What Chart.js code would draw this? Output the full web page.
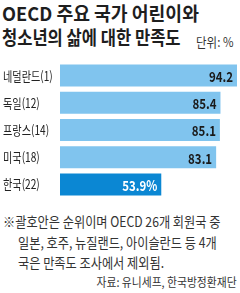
<!DOCTYPE html>
<html>
<head>
<meta charset="utf-8">
<script src="https://cdn.jsdelivr.net/npm/chart.js@4"></script>
<style>
  html, body { margin: 0; padding: 0; background: #fff; }
  body { width: 240px; height: 293px; position: relative; overflow: hidden;
         font-family: "Noto Sans CJK KR", "Noto Sans", sans-serif; color: #1e1e1e; }
  .t { position: absolute; white-space: nowrap; transform-origin: left top; }
  .title { font-size: 19px; font-weight: 700; line-height: 19px; left: 2px; }
  .unit { font-size: 13px; right: 7px; top: 32px; transform-origin: right top; transform: scaleX(.88); color: #333; }
  .note { font-size: 14px; line-height: 14px; transform: scaleX(.87); color: #333; }
  .src { font-size: 12px; right: 3px; top: 273px; transform-origin: right top; transform: scaleX(.9); color: #333; }
  #wrap { position: absolute; left: 0; top: 62px; width: 240px; height: 136px; }
</style>
</head>
<body>
<div class="t title" style="top:3px;transform:scaleX(.96)">OECD 주요 국가 어린이와</div>
<div class="t title" style="top:27px;transform:scaleX(.87)">청소년의 삶에 대한 만족도</div>
<div class="t unit">단위: %</div>
<div id="wrap"><canvas id="c"></canvas></div>
<div class="t note" style="left:3px;top:214px">※괄호안은 순위이며 OECD 26개 회원국 중</div>
<div class="t note" style="left:18px;top:235px">일본, 호주, 뉴질랜드, 아이슬란드 등 4개</div>
<div class="t note" style="left:18px;top:255px">국은 만족도 조사에서 제외됨.</div>
<div class="t src">자료: 유니세프, 한국방정환재단</div>
<script>
const countries = ['네덜란드(1)', '독일(12)', '프랑스(14)', '미국(18)', '한국(22)'];
const satisfaction = [94.2, 85.4, 85.1, 83.1, 53.9];
const valueLabels = ['94.2', '85.4', '85.1', '83.1', '53.9%'];
const barColors = ['#80c4ee', '#80c4ee', '#80c4ee', '#80c4ee', '#0b87d3'];
const textColors = ['#1a1a1a', '#1a1a1a', '#1a1a1a', '#1a1a1a', '#ffffff'];

const labelsPlugin = {
  id: 'labels',
  afterDatasetsDraw(chart) {
    const ctx = chart.ctx;
    const meta = chart.getDatasetMeta(0);
    const yScale = chart.scales.y;
    ctx.save();
    ctx.textBaseline = 'middle';
    // category names on the left
    ctx.font = '13px "Noto Sans CJK KR"';
    ctx.fillStyle = '#222';
    ctx.textAlign = 'left';
    countries.forEach((c, i) => {
      const y = yScale.getPixelForValue(i);
      ctx.save();
      ctx.translate(3, y);
      ctx.scale(0.78, 1);
      ctx.fillText(c, 0, 0);
      ctx.restore();
    });
    // values inside the bars
    ctx.font = 'bold 14px "Noto Sans CJK KR"';
    ctx.textAlign = 'right';
    meta.data.forEach((bar, i) => {
      ctx.save();
      ctx.translate(bar.x - 4, bar.y + 1);
      ctx.scale(0.82, 1);
      ctx.fillStyle = textColors[i];
      ctx.fillText(valueLabels[i], 0, 0);
      ctx.restore();
    });
    ctx.restore();
  }
};

new Chart(document.getElementById('c'), {
  type: 'bar',
  data: {
    labels: countries,
    datasets: [{
      data: satisfaction,
      backgroundColor: barColors,
      borderWidth: 0,
      barPercentage: 0.81,
      categoryPercentage: 1,
    }]
  },
  options: {
    indexAxis: 'y',
    responsive: true,
    maintainAspectRatio: false,
    animation: false,
    layout: { padding: { left: 60, right: 3, top: 0, bottom: 0 } },
    scales: {
      x: { display: false, min: 0, max: 94.2 },
      y: { display: false },
    },
    plugins: { legend: { display: false }, tooltip: { enabled: false } },
  },
  plugins: [labelsPlugin],
});
</script>
</body>
</html>
